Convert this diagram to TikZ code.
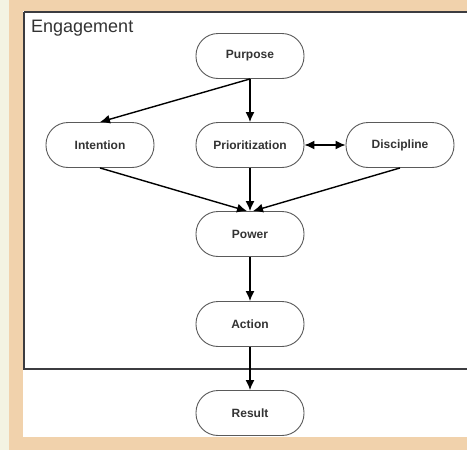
\documentclass[tikz,border=0pt]{standalone}
\usepackage{fontspec}
\setmainfont{Liberation Sans}
\usetikzlibrary{arrows.meta}
\definecolor{cream}{HTML}{F3F3E2}
\definecolor{tan}{HTML}{F1D2AC}
\definecolor{boxline}{HTML}{3C3C40}
\definecolor{nodeline}{HTML}{5A5A5A}
\definecolor{txt}{HTML}{333333}
\tikzset{
  proc/.style={draw=nodeline, line width=0.9pt, rounded corners=22pt, fill=white,
    minimum width=108pt, minimum height=45pt, inner sep=0pt,
    font=\fontsize{12}{14}\selectfont\bfseries, text=txt},
  arr/.style={draw=black, line width=1.4pt, -{Latex[length=10pt,width=9pt]}},
  darr/.style={draw=black, line width=1.4pt, {Latex[length=10pt,width=9pt]}-{Latex[length=10pt,width=9pt]}}
}
\begin{document}
\begin{tikzpicture}[x=1pt,y=-1pt]
\useasboundingbox (0,0) rectangle (467,450);
\fill[cream] (0,0) rectangle (467,450);
\fill[tan] (9,0) rectangle (467,450);
\fill[white] (23,11) rectangle (467,437);
\draw[boxline, line width=2pt] (24,12) -- (24,369) -- (470,369);
\draw[boxline, line width=2pt] (24,12) -- (470,12);
\node[anchor=west, inner sep=0pt, font=\fontsize{18}{21}\selectfont, text=txt] (eng) at (31,28) {Engagement};
\node[proc] (purpose) at (250,56) {Purpose};
\node[proc] (intention) at (100,145) {Intention};
\node[proc] (prior) at (250,145) {Prioritization};
\node[proc] (disc) at (400,145) {Discipline};
\node[proc] (power) at (250,234) {Power};
\node[proc] (action) at (250,324) {Action};
\node[proc] (result) at (250,413) {Result};
\draw[arr] (purpose.south) -- (intention.north);
\draw[arr] (purpose.south) -- (prior.north);
\draw[darr] (prior.east) -- (disc.west);
\draw[arr] (intention.south) -- ([xshift=-3pt]power.north);
\draw[arr] (prior.south) -- (power.north);
\draw[arr] (disc.south) -- ([xshift=3pt]power.north);
\draw[arr] (power.south) -- (action.north);
\draw[arr] (action.south) -- (result.north);
\end{tikzpicture}
\end{document}
